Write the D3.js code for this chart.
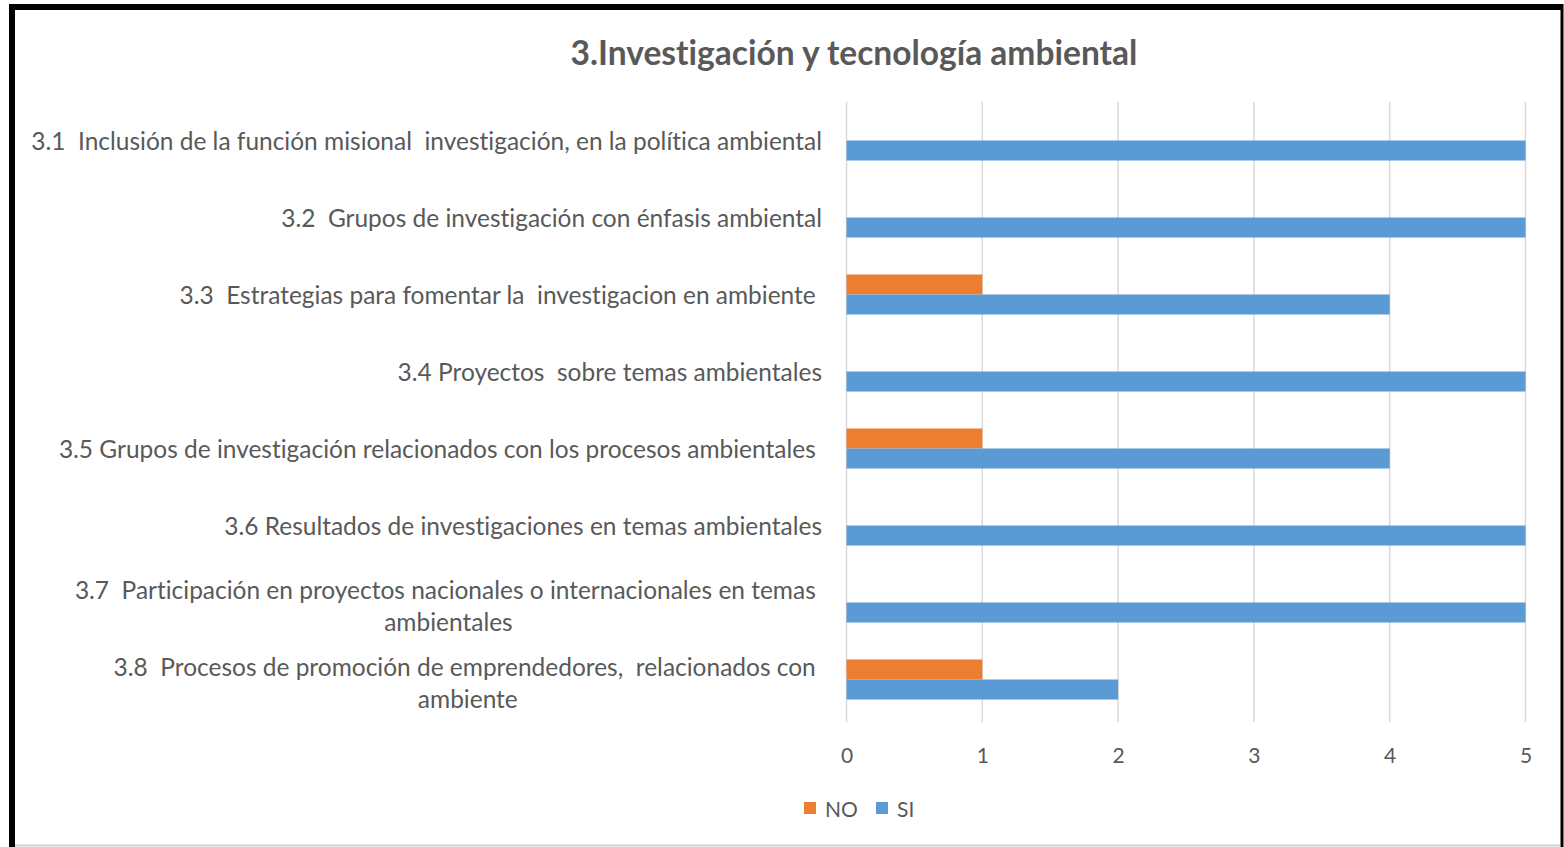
<!DOCTYPE html>
<html>
<head>
<meta charset="utf-8">
<script src="https://cdn.jsdelivr.net/npm/d3@7"></script>
<style>
html,body{margin:0;padding:0;background:#fff;}
svg{display:block;}
text{white-space:pre;font-variant-ligatures:none;font-feature-settings:"liga" 0;}
</style>
</head>
<body>
<svg id="chart" width="1564" height="847"></svg>
<script>
const title = "3.Investigación y tecnología ambiental";
const categories = [
  "3.1  Inclusión de la función misional  investigación, en la política ambiental",
  "3.2  Grupos de investigación con énfasis ambiental",
  "3.3  Estrategias para fomentar la  investigacion en ambiente ",
  "3.4 Proyectos  sobre temas ambientales",
  "3.5 Grupos de investigación relacionados con los procesos ambientales ",
  "3.6 Resultados de investigaciones en temas ambientales",
  "3.7  Participación en proyectos nacionales o internacionales en temas \nambientales",
  "3.8  Procesos de promoción de emprendedores,  relacionados con \nambiente"
];
const seriesNames = ["NO", "SI"];
const valuesNO = [0, 0, 1, 0, 1, 0, 0, 1];
const valuesSI = [5, 5, 4, 5, 4, 5, 5, 2];
const xTicks = [0, 1, 2, 3, 4, 5];
const colors = {NO: "#ED7D31", SI: "#5B9BD5"};

const svg = d3.select("#chart");
const textColor = "#595959";
const font = "Lato, 'Open Sans', sans-serif";

// frame
svg.append("rect").attr("x",0).attr("y",0).attr("width",1564).attr("height",847).attr("fill","#fff");
svg.append("line").attr("x1",9).attr("x2",1563).attr("y1",7).attr("y2",7).attr("stroke","#000").attr("stroke-width",6);
svg.append("line").attr("x1",12).attr("x2",12).attr("y1",4).attr("y2",847).attr("stroke","#000").attr("stroke-width",6);
svg.append("line").attr("x1",1562).attr("x2",1562).attr("y1",4).attr("y2",847).attr("stroke","#000").attr("stroke-width",3);
svg.append("line").attr("x1",15).attr("x2",1560).attr("y1",845.5).attr("y2",845.5).attr("stroke","#d0d0d0").attr("stroke-width",2);

const plotTop = 102, plotBottom = 718;
const x = d3.scaleLinear().domain([0, 5]).range([846.5, 1525.5]);
const y = d3.scaleBand().domain(categories).range([plotTop, plotBottom]).paddingInner(0.48).paddingOuter(0.24);
const ySub = d3.scaleBand().domain(seriesNames).range([0, y.bandwidth()]);

// gridlines
svg.append("g").selectAll("line").data(xTicks).join("line")
  .attr("x1", d => x(d)).attr("x2", d => x(d))
  .attr("y1", plotTop).attr("y2", plotBottom + 4)
  .attr("stroke", "#d9d9d9").attr("stroke-width", 1.5);

// bars
const rows = categories.map((c, i) => ({cat: c, NO: valuesNO[i], SI: valuesSI[i]}));
const gRows = svg.append("g").selectAll("g").data(rows).join("g")
  .attr("transform", d => `translate(0,${y(d.cat)})`);
gRows.selectAll("rect").data(d => seriesNames.map(s => ({s, v: d[s]})).filter(e => e.v > 0)).join("rect")
  .attr("x", x(0)).attr("y", d => ySub(d.s))
  .attr("width", d => x(d.v) - x(0)).attr("height", ySub.bandwidth())
  .attr("fill", d => colors[d.s]);

// x axis tick labels
const xAxis = d3.axisBottom(x).tickValues(xTicks).tickSize(0).tickPadding(0).tickFormat(d3.format("d"));
const gx = svg.append("g").attr("transform", `translate(0,${748})`).call(xAxis);
gx.select(".domain").remove();
gx.selectAll("text").attr("font-family", font).attr("font-size", 21).attr("fill", textColor).attr("dy", "0.7em");

// title
const t = svg.append("text").attr("x", 854).attr("y", 52).attr("text-anchor", "middle")
  .attr("dominant-baseline", "central")
  .attr("font-family", font).attr("font-weight", "bold").attr("font-size", 30).attr("fill", textColor).text(title);
const tw = t.node().getComputedTextLength();
t.attr("font-size", 30 * 567 / tw);

// category labels
const probe = svg.append("text").attr("font-family", font).attr("font-size", 20).text(categories[0]);
const baseW = probe.node().getComputedTextLength();
probe.remove();
const labelSize = 20 * 791 / baseW;
const labelRight = 822;
const lineH = 32;
const gl = svg.append("g");
categories.forEach(c => {
  const lines = c.split("\n");
  const g = gl.append("g");
  const tx = g.selectAll("text").data(lines).join("text")
    .attr("font-family", font).attr("font-size", labelSize).attr("fill", textColor)
    .attr("dominant-baseline", "central").text(d => d);
  const widths = tx.nodes().map(n => n.getComputedTextLength());
  const maxW = d3.max(widths);
  const cy = y(c) + y.bandwidth() / 2;
  if (lines.length === 1) {
    tx.attr("text-anchor", "end").attr("x", labelRight).attr("y", cy);
  } else {
    tx.attr("text-anchor", "middle").attr("x", labelRight - maxW / 2)
      .attr("y", (d, i) => cy - 13 + (i - (lines.length - 1) / 2) * lineH + lineH / 2);
  }
});

// legend
const legend = svg.append("g").attr("transform", "translate(804,808)");
const items = [{s: "NO", x: 0}, {s: "SI", x: 72}];
items.forEach(it => {
  legend.append("rect").attr("x", it.x).attr("y", -6).attr("width", 12).attr("height", 12).attr("fill", colors[it.s]);
  legend.append("text").attr("x", it.x + 21).attr("y", 0).attr("dominant-baseline", "central")
    .attr("font-family", font).attr("font-size", 21).attr("fill", textColor).text(it.s);
});
</script>
</body>
</html>
